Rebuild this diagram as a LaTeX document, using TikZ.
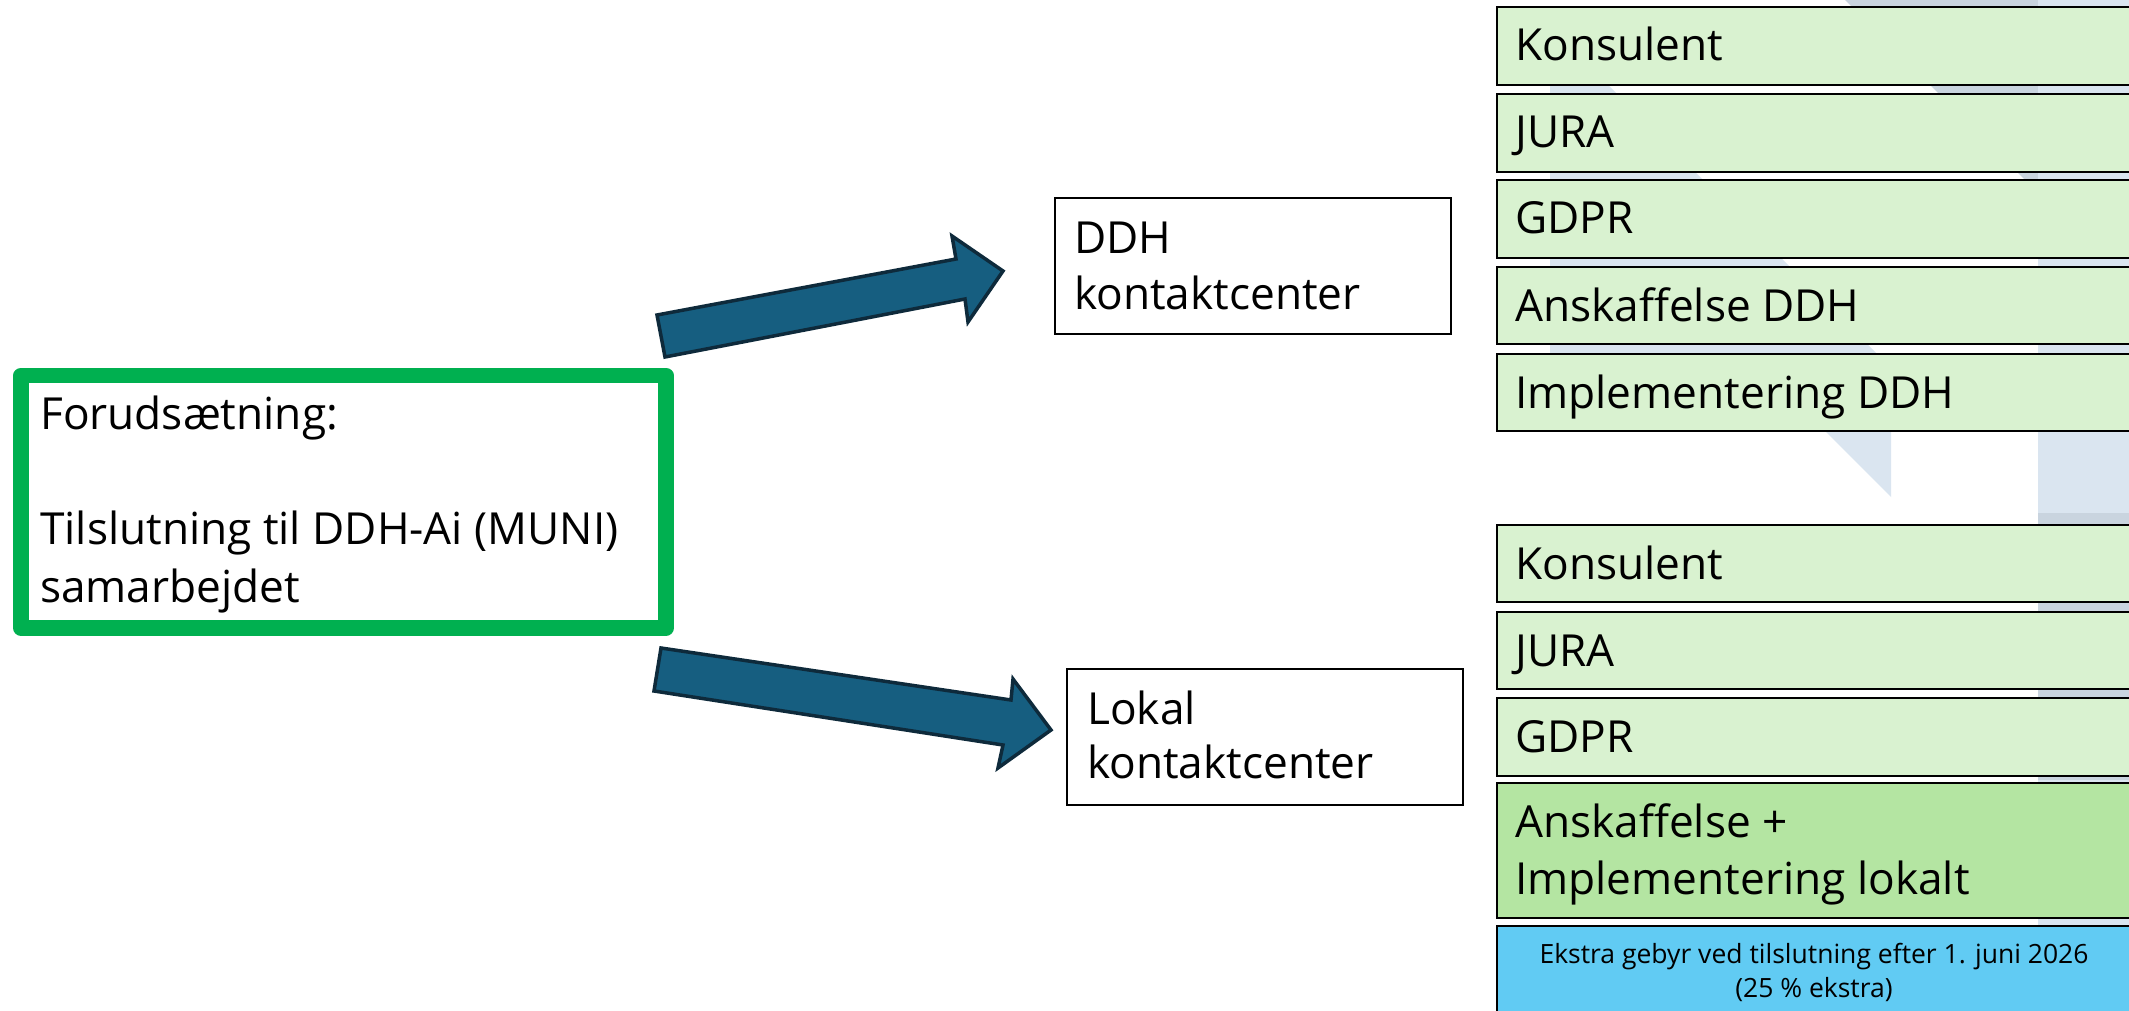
\documentclass[tikz,border=0pt]{standalone}
\usepackage{fontspec}
\setmainfont{Open Sans}
\definecolor{lgreen}{HTML}{D9F2D0}
\definecolor{mgreen}{HTML}{B4E5A2}
\definecolor{skyb}{HTML}{61CBF3}
\definecolor{arrfill}{HTML}{165E80}
\definecolor{arrline}{HTML}{0E2A3B}
\definecolor{frame}{HTML}{00B050}
\definecolor{bglight}{HTML}{DAE5F0}
\definecolor{bgdark}{HTML}{C9D4DF}
\begin{document}
\begin{tikzpicture}[x=1pt,y=-1pt,
  lbl/.style={anchor=base west, inner sep=0pt, font=\fontsize{44.2}{57}\selectfont},
  small/.style={anchor=base, inner sep=0pt, font=\fontsize{26.5}{34}\selectfont},
  listbox/.style={draw=black, line width=2.2pt, fill=lgreen, anchor=north west, inner sep=0pt, outer sep=0pt, minimum width=638pt},
  plainbox/.style={draw=black, line width=2pt, fill=white, anchor=north west, inner sep=0pt, outer sep=0pt, minimum width=396pt, minimum height=136pt},
  blockarrow/.style={fill=arrfill, draw=arrline, line width=3.5pt, line join=miter}
]
\useasboundingbox (0,0) rectangle (2129,1011);
\clip (0,0) rectangle (2129,1011);
\fill[white] (0,0) rectangle (2129,1011);

% background decoration
\fill[bglight] (1550,27) -- (1891,368) -- (1891,497) -- (1794,400) -- (1550,400) -- cycle;
\fill[bgdark] (1845,0) -- (2038,0) -- (2038,193) -- cycle;
\fill[bglight] (2038,0) rectangle (2140,1011);
\fill[bgdark] (2038,513) rectangle (2140,780);

% green prerequisite frame
\node[draw=frame, line width=15.5pt, line join=round, fill=white, anchor=north west, inner sep=0pt, outer sep=0pt,
      minimum width=645pt, minimum height=252.5pt] (pre) at (21,375.5) {};
\node[lbl] (pre1) at (40,429) {Forudsætning:};
\node[lbl] (pre2) at (40,544) {Tilslutning til DDH-Ai (MUNI)};
\node[lbl] (pre3) at (40,602) {samarbejdet};

% middle boxes
\node[plainbox] (ddh) at (1055,198) {};
\node[lbl] (ddh1) at (1074,254) {DDH};
\node[lbl] (ddh2) at (1074,309) {kontaktcenter};
\node[plainbox] (lok) at (1067,669) {};
\node[lbl] (lok1) at (1087,724) {Lokal};
\node[lbl] (lok2) at (1087,778) {kontaktcenter};

% block arrows
\filldraw[blockarrow] (657,315) -- (956,259) -- (952,236) -- (1003,271) -- (968,322) -- (965,299) -- (665,357) -- cycle;
\filldraw[blockarrow] (661,648) -- (1011,700) -- (1013,679) -- (1051,730) -- (998,768) -- (1003,745) -- (654,691) -- cycle;

% upper list
\node[listbox, minimum height=78pt] (u1) at (1497,7) {};
\node[lbl] (u1t) at (1515,61) {Konsulent};
\node[listbox, minimum height=78pt] (u2) at (1497,94) {};
\node[lbl] (u2t) at (1515,148) {JURA};
\node[listbox, minimum height=78pt] (u3) at (1497,180) {};
\node[lbl] (u3t) at (1515,234) {GDPR};
\node[listbox, minimum height=77pt] (u4) at (1497,267) {};
\node[lbl] (u4t) at (1515,321) {Anskaffelse DDH};
\node[listbox, minimum height=77pt] (u5) at (1497,354) {};
\node[lbl] (u5t) at (1515,408) {Implementering DDH};

% lower list
\node[listbox, minimum height=77pt] (l1) at (1497,525) {};
\node[lbl] (l1t) at (1515,579) {Konsulent};
\node[listbox, minimum height=77pt] (l2) at (1497,612) {};
\node[lbl] (l2t) at (1515,666) {JURA};
\node[listbox, minimum height=78pt] (l3) at (1497,698) {};
\node[lbl] (l3t) at (1515,752) {GDPR};
\node[listbox, fill=mgreen, minimum height=135pt] (l4) at (1497,783) {};
\node[lbl] (l4t) at (1515,837) {Anskaffelse +};
\node[lbl] (l4u) at (1515,894) {Implementering lokalt};
\node[listbox, fill=skyb, minimum height=100pt] (l5) at (1497,926) {};
\node[small] (l5t) at (1814,963) {Ekstra gebyr ved tilslutning efter 1. juni 2026};
\node[small] (l5u) at (1814,997) {(25 \% ekstra)};
\end{tikzpicture}
\end{document}
